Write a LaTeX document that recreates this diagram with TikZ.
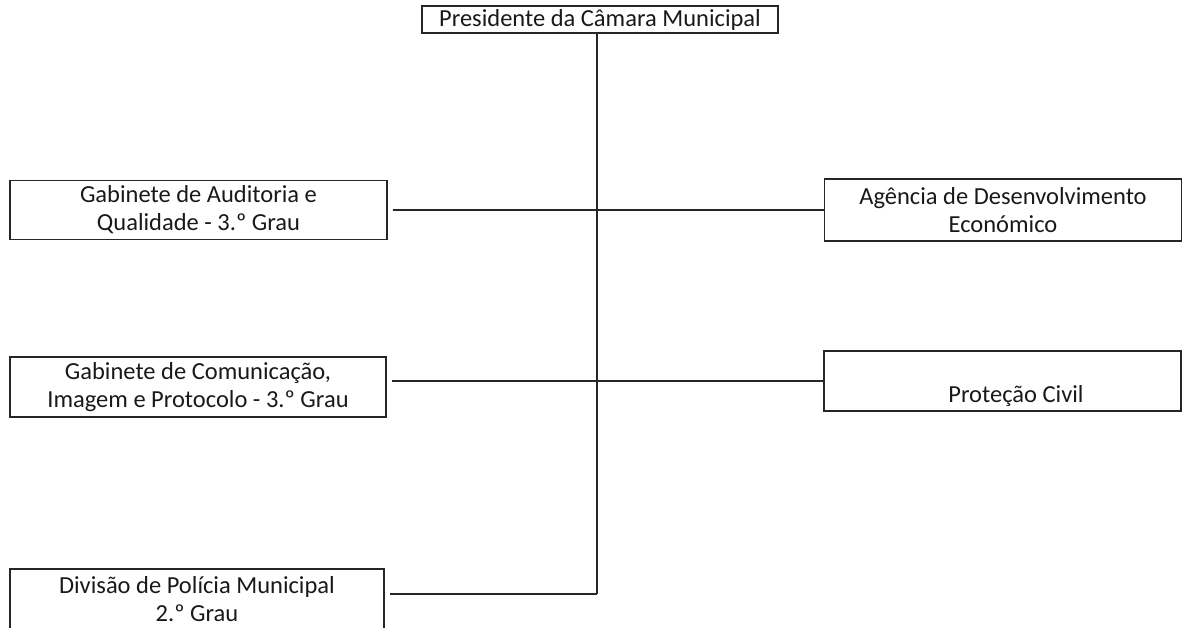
\documentclass[tikz,border=0pt]{standalone}
\usepackage{fontspec}
\setmainfont{Carlito}
\usetikzlibrary{positioning,calc}

\begin{document}
\begin{tikzpicture}[
		x=1pt,y=-1pt,
		unit/.style={
			draw=black!85,
			line width=1.1pt,
			align=center,
			inner sep=0pt,
			text=black!90,
			font=\fontsize{24.5}{28}\selectfont
		},
		link/.style={
			draw=black!85,
			line width=1.1pt
		}
		]
		\useasboundingbox (0,0) rectangle (1182,627);
		\clip (0,0) rectangle (1182,627);
		
		\node[unit,minimum width=356,minimum height=27] (PRES) at (600,19.5) {Presidente da Câmara Municipal};
		
		\node[unit,minimum width=377,minimum height=59] (GAQ) at (198.5,210) {Gabinete de Auditoria e\\Qualidade - 3.º Grau};
		\node[unit,minimum width=357,minimum height=62] (ADE) at (1003,210) {Agência de Desenvolvimento\\Económico};
		
		\node[unit,minimum width=376,minimum height=60] (GCIP) at (198,387) {Gabinete de Comunicação,\\Imagem e Protocolo - 3.º Grau};
		\node[unit,minimum width=357,minimum height=60] (PC) at (1002.5,381) {};
		\node[font=\fontsize{24.5}{28}\selectfont,text=black!90] (PCTXT) at (1016,396) {Proteção Civil};
		
		\node[unit,minimum width=374,minimum height=60] (DPM) at (197,599) {Divisão de Polícia Municipal\\2.º Grau};
		
		% trunk
		\coordinate (BEND) at (597,594);
		\draw[link] (PRES.south -| BEND) -- (BEND);
		\draw[link,shorten <=5pt] (DPM.east |- BEND) -- (BEND);
		
		\draw[link,shorten <=5pt] (GAQ.east) -- (ADE.west);
		\draw[link,shorten <=5pt] (GCIP.east |- PC.west) -- (PC.west);
		\end{tikzpicture}
\end{document}
